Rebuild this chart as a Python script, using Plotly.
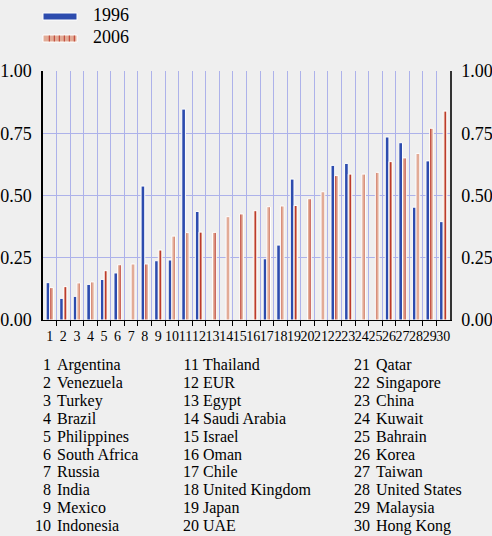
import plotly.graph_objects as go

# Country index and names
codes = list(range(1, 31))
countries = [
    "Argentina", "Venezuela", "Turkey", "Brazil", "Philippines",
    "South Africa", "Russia", "India", "Mexico", "Indonesia",
    "Thailand", "EUR", "Egypt", "Saudi Arabia", "Israel",
    "Oman", "Chile", "United Kingdom", "Japan", "UAE",
    "Qatar", "Singapore", "China", "Kuwait", "Bahrain",
    "Korea", "Taiwan", "United States", "Malaysia", "Hong Kong",
]

# Series values (None = no observation)
v1996 = [0.150, 0.087, 0.095, 0.143, 0.163, 0.189, None, 0.538, 0.238, 0.241,
         0.847, 0.436, None, None, None, None, 0.246, 0.301, 0.566, None,
         None, 0.621, 0.629, None, None, 0.735, 0.712, 0.453, 0.639, 0.395]
v2006 = [0.130, 0.134, 0.149, 0.153, 0.198, 0.222, 0.225, 0.225, 0.281, 0.337,
         0.351, 0.353, 0.352, 0.415, 0.426, 0.439, 0.455, 0.458, 0.460, 0.487,
         0.515, 0.580, 0.586, 0.586, 0.593, 0.636, 0.651, 0.669, 0.770, 0.839]

y_ticks = [0, 0.25, 0.5, 0.75, 1.0]
y_ticktext = ["0.00", "0.25", "0.50", "0.75", "1.00"]
series_names = ["1996", "2006"]

# Styling
W, H = 492, 536
ML, MR, MT, MB = 43, 42, 71, 216
BG = "#efefef"
BLUE = "#2d4cae"
SALMON = "#e2ab96"
RED = "#bc3a2c"
GRID = "#adb2ea"
FONT = "Liberation Serif"

PW = W - ML - MR
PH = H - MT - MB


def px_x(x):
    return (x - ML) / PW


def px_y(y):
    return (H - MB - y) / PH


fig = go.Figure()
fig.add_trace(go.Bar(
    x=codes, y=v1996, name=series_names[0],
    marker=dict(color=BLUE, line=dict(color="white", width=1)),
))
fig.add_trace(go.Bar(
    x=codes, y=v2006, name=series_names[1],
    marker=dict(color=SALMON, line=dict(color="white", width=1),
                pattern=dict(shape="|", bgcolor=SALMON, fgcolor=RED,
                             size=5, solidity=0.3, fillmode="replace")),
))
# Transparent copy on the right-hand axis so that axis gets drawn
fig.add_trace(go.Scatter(
    x=codes, y=v2006, yaxis="y2", mode="markers",
    marker=dict(opacity=0), hoverinfo="skip", showlegend=False,
))

# Hand-drawn legend at the top left
shapes = []
annotations = []
shapes.append(dict(type="rect", xref="paper", yref="paper",
                   x0=px_x(43), x1=px_x(77), y0=px_y(20), y1=px_y(13),
                   fillcolor=BLUE, line=dict(color="white", width=1)))
shapes.append(dict(type="rect", xref="paper", yref="paper",
                   x0=px_x(43), x1=px_x(77), y0=px_y(42), y1=px_y(35),
                   fillcolor=SALMON, line=dict(color="white", width=1)))
for k in range(6):
    sx = 49.3 + 5 * k
    shapes.append(dict(type="line", xref="paper", yref="paper",
                       x0=px_x(sx), x1=px_x(sx), y0=px_y(41.5), y1=px_y(35.5),
                       line=dict(color=RED, width=1)))
for name, cy in zip(series_names, [15.5, 37]):
    annotations.append(dict(text=name, xref="paper", yref="paper",
                            x=px_x(91), y=px_y(cy), xanchor="left", yanchor="middle",
                            showarrow=False, font=dict(family=FONT, size=18, color="black")))

# Numbered country key: one multi-line block per column for the numbers
# (right aligned) and one for the names (left aligned)
KEY_SIZE = 16
LINE_BASE = 13.77  # base size that sets the 1.3x line pitch
col_num_right = [51.5, 199.5, 370.5]
col_name_left = [56.0, 202.0, 374.5]
key_mid_y = 364.5 + 4.5 * 17.9


def block(lines):
    return "<br>".join(f'<span style="font-size:{KEY_SIZE}px">{s}</span>' for s in lines)


for c in range(3):
    nums = [str(v) for v in codes[c * 10:(c + 1) * 10]]
    names = countries[c * 10:(c + 1) * 10]
    annotations.append(dict(text=block(nums), xref="paper", yref="paper",
                            x=px_x(col_num_right[c]), y=px_y(key_mid_y),
                            xanchor="right", yanchor="middle", align="right",
                            showarrow=False, borderpad=0,
                            font=dict(family=FONT, size=LINE_BASE, color="black")))
    annotations.append(dict(text=block(names), xref="paper", yref="paper",
                            x=px_x(col_name_left[c]), y=px_y(key_mid_y),
                            xanchor="left", yanchor="middle", align="left",
                            showarrow=False, borderpad=0,
                            font=dict(family=FONT, size=LINE_BASE, color="black")))

fig.update_layout(
    width=W, height=H,
    margin=dict(l=ML, r=MR, t=MT, b=MB, pad=0, autoexpand=False),
    paper_bgcolor=BG, plot_bgcolor=BG,
    barmode="group", bargap=0.46, bargroupgap=0.0,
    showlegend=False,
    font=dict(family=FONT, color="black"),
    shapes=shapes, annotations=annotations,
    xaxis=dict(
        range=[0.5, 30.5], tickmode="array", tickvals=codes,
        ticktext=[str(c) for c in codes], ticks="", showgrid=False,
        tickangle=0, automargin=False, ticklabelstandoff=3,
        tickfont=dict(family=FONT, size=14, color="black"),
        showline=True, linecolor="black", linewidth=1, zeroline=False,
        minor=dict(tickmode="array", tickvals=[c + 0.5 for c in codes[:-1]],
                   ticks="outside", ticklen=5, tickcolor="black",
                   showgrid=True, gridcolor=GRID, gridwidth=1.3),
    ),
    yaxis=dict(
        range=[0, 1], tickvals=y_ticks, ticktext=y_ticktext,
        showgrid=True, gridcolor=GRID, gridwidth=1.3, zeroline=False,
        showline=True, linecolor="black", linewidth=1.5, ticks="",
        ticklabelstandoff=6, automargin=False,
        tickfont=dict(family=FONT, size=18, color="black"),
    ),
    yaxis2=dict(
        range=[0, 1], tickvals=y_ticks, ticktext=y_ticktext,
        overlaying="y", side="right", anchor="x", showgrid=False, zeroline=False,
        showline=True, linecolor="#333333", linewidth=1.5, ticks="",
        ticklabelstandoff=6, automargin=False,
        tickfont=dict(family=FONT, size=18, color="black"),
    ),
)

fig.write_html("out.html")
